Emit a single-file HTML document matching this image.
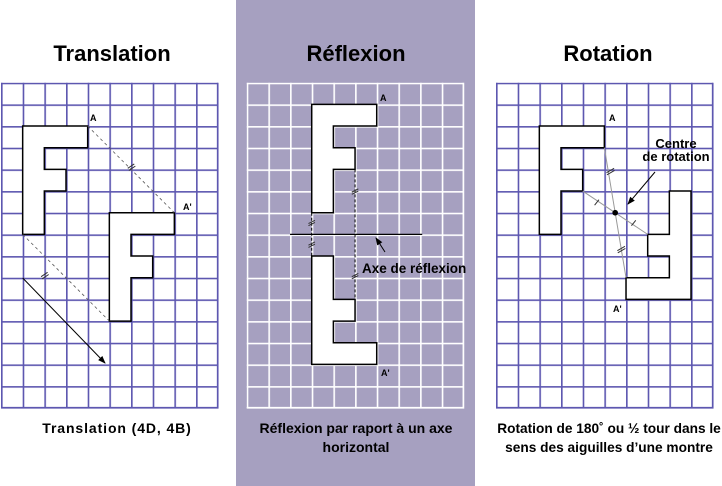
<!DOCTYPE html>
<html><head><meta charset="utf-8"><style>
html,body{margin:0;padding:0;background:#fff;}
svg{display:block;}
text{font-family:"Liberation Sans",sans-serif;font-weight:bold;fill:#000;}
.ns{vector-effect:non-scaling-stroke;}
</style></head><body>
<svg width="722" height="486" viewBox="0 0 722 486">
<defs>
<pattern id="gp" patternUnits="userSpaceOnUse" width="1" height="1"><path d="M0 0H1M0 0V1" stroke="#5d57b0" stroke-width="0.15" fill="none"/></pattern>
<pattern id="gw" patternUnits="userSpaceOnUse" width="1" height="1"><path d="M0 0H1M0 0V1" stroke="#fff" stroke-width="0.15" fill="none"/></pattern>
<marker id="ar" markerWidth="8" markerHeight="8" refX="7" refY="4" orient="auto" markerUnits="userSpaceOnUse"><path d="M0 1L8 4L0 7Z" fill="#000"/></marker>
</defs>
<rect x="236" y="0" width="239" height="486" fill="#a6a0c0"/>
<text x="112" y="61" font-size="22" text-anchor="middle">Translation</text>
<text x="356" y="61" font-size="22" text-anchor="middle">Réflexion</text>
<text x="608" y="61" font-size="22" text-anchor="middle">Rotation</text>

<!-- Panel 1 -->
<g transform="translate(1,82.7) scale(21.67)">
<rect x="0" y="0" width="10" height="15" fill="url(#gp)"/>
<path d="M10 0V15H0" stroke="#5d57b0" stroke-width="1.7" fill="none" class="ns"/>
<path d="M1 2H4V3H2V4H3V5H2V7H1Z" fill="#fff" stroke="#000" stroke-width="1.5" class="ns"/>
<path d="M5 6H8V7H6V8H7V9H6V11H5Z" fill="#fff" stroke="#000" stroke-width="1.5" class="ns"/>
<path d="M4 2L8 6M1 7L5 11" stroke="#555" stroke-width="0.8" stroke-dasharray="3 3" fill="none" class="ns"/>
<path d="M5.85 3.95L6.15 3.75M5.9 4.05L6.2 3.85M1.85 8.95L2.15 8.75M1.9 9.05L2.2 8.85" stroke="#333" stroke-width="1" class="ns"/>
</g>
<line x1="22.7" y1="278" x2="105" y2="363" stroke="#000" stroke-width="1" marker-end="url(#ar)"/>
<text x="90" y="121" font-size="9">A</text>
<text x="183" y="210" font-size="9">A'</text>
<text x="117" y="433" font-size="14" letter-spacing="0.9" text-anchor="middle">Translation (4D, 4B)</text>

<!-- Panel 2 -->
<g transform="translate(246.7,82.7) scale(21.67)">
<rect x="0" y="0" width="10" height="15" fill="url(#gw)"/>
<path d="M10 0V15H0" stroke="#fff" stroke-width="1.7" fill="none" class="ns"/>
<path d="M3 1H6V2H4V3H5V4H4V6H3Z" fill="#fff" stroke="#000" stroke-width="1.5" class="ns"/>
<path d="M3 8H4V10H5V11H4V12H6V13H3Z" fill="#fff" stroke="#000" stroke-width="1.5" class="ns"/>
<path d="M3 6V8M5 4V10" stroke="#000" stroke-width="1" stroke-dasharray="3 2" fill="none" class="ns"/>
<path d="M2 7H8.1" stroke="#000" stroke-width="1.3" class="ns"/>
<path d="M2.85 6.5L3.15 6.35M2.85 6.6L3.15 6.45M2.85 7.5L3.15 7.35M2.85 7.6L3.15 7.45M4.85 5.05L5.15 4.9M4.85 5.15L5.15 5M4.85 8.95L5.15 8.8M4.85 9.05L5.15 8.9" stroke="#333" stroke-width="1" class="ns"/>
</g>
<line x1="385" y1="252" x2="376" y2="238" stroke="#000" stroke-width="1" marker-end="url(#ar)"/>
<text x="362" y="273" font-size="13.5">Axe de réflexion</text>
<text x="380" y="101" font-size="9">A</text>
<text x="381" y="376" font-size="9">A'</text>
<text x="356" y="433" font-size="14" text-anchor="middle">Réflexion par raport à un axe</text>
<text x="356" y="452" font-size="14" text-anchor="middle">horizontal</text>

<!-- Panel 3 -->
<g transform="translate(496,82.7) scale(21.67)">
<rect x="0" y="0" width="10" height="15" fill="url(#gp)"/>
<path d="M10 0V15H0" stroke="#5d57b0" stroke-width="1.7" fill="none" class="ns"/>
<path d="M2 2H5V3H3V4H4V5H3V7H2Z" fill="#fff" stroke="#000" stroke-width="1.5" class="ns"/>
<path d="M8 5H9V10H6V9H8V8H7V7H8Z" fill="#fff" stroke="#000" stroke-width="1.5" class="ns"/>
<path d="M5 3L6 9M4 5L7 7" stroke="#999" stroke-width="1" fill="none" class="ns"/>
<path d="M5.1 4.15L5.45 3.95M5.12 4.25L5.47 4.05M5.6 7.75L5.95 7.55M5.62 7.85L5.97 7.65M4.55 5.65L4.75 5.4M6.25 6.6L6.45 6.35" stroke="#333" stroke-width="1" class="ns"/>
<circle cx="5.5" cy="6" r="0.13" fill="#000"/>
</g>
<line x1="655" y1="172" x2="628" y2="204" stroke="#000" stroke-width="1" marker-end="url(#ar)"/>
<text x="676" y="148" font-size="13" text-anchor="middle">Centre</text>
<text x="676" y="161" font-size="13" text-anchor="middle">de rotation</text>
<text x="609" y="121" font-size="9">A</text>
<text x="613" y="312" font-size="9">A'</text>
<text x="609" y="433" font-size="13.7" text-anchor="middle">Rotation de 180˚ ou ½ tour dans le</text>
<text x="609" y="452" font-size="13.7" text-anchor="middle">sens des aiguilles d’une montre</text>
</svg>
</body></html>
